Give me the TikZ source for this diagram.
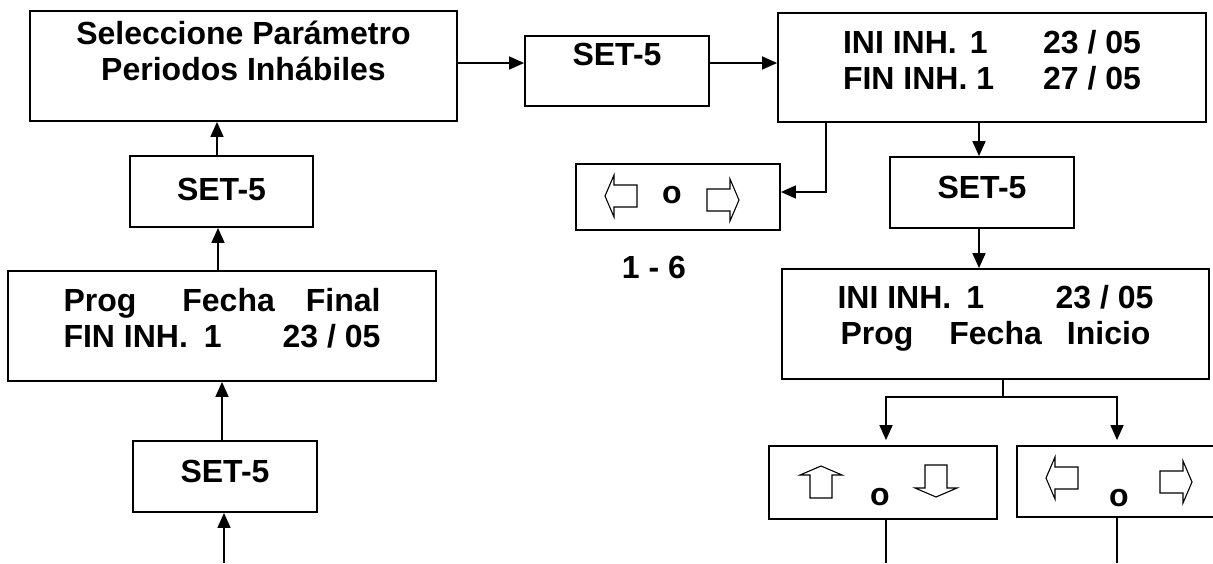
\documentclass[tikz,border=0pt]{standalone}
\usepackage{fontspec}
\setmainfont{Liberation Sans}
\usetikzlibrary{arrows.meta}

\newcommand{\dos}[3]{\vtop{\hbox to #1{\hfil#2\hfil}\hbox to #1{\hfil#3\hfil}}}

\tikzset{
  caja/.style={draw, line width=1.8pt, inner sep=0pt, text height=22pt,
    font=\bfseries\fontsize{32}{36}\selectfont},
  txt/.style={inner sep=0pt, font=\bfseries\fontsize{32}{36}\selectfont},
  flecha/.style={line width=1.5pt, -{Triangle[length=15pt,width=13pt]}},
  linea/.style={line width=1.5pt},
  pics/bloque/.style={code={
    \draw[line width=1.1pt] (0,-11) -- (23,-11) -- (23,-21) -- (32,0)
      -- (23,21) -- (23,11) -- (0,11) -- cycle;}}
}

\begin{document}
\begin{tikzpicture}[x=1pt, y=-1pt]
  \useasboundingbox (0,0) rectangle (1213,563);

  \node[caja, minimum width=427pt, minimum height=110pt, text depth=66pt] (sel) at (243.5,66)
    {\dos{340pt}{Seleccione Parámetro}{Periodos Inhábiles}};
  \node[caja, minimum width=183pt, minimum height=71pt, text depth=5pt] (setA) at (221.5,191.5) {SET-5};
  \node[caja, minimum width=428pt, minimum height=110pt, text depth=52pt] (progfin) at (222,326)
    {\dos{317pt}{Prog\hspace{46pt}Fecha\hfill Final}{FIN INH.\hspace{16pt}1\hfill 23 / 05}};
  \node[caja, minimum width=184pt, minimum height=71pt, text depth=11pt] (setB) at (225,476.5) {SET-5};

  \node[caja, minimum width=184pt, minimum height=70pt, text depth=34pt] (setC) at (617,71) {SET-5};
  \node[caja, minimum width=428pt, minimum height=109pt, text depth=51pt] (inifin) at (992,67.5)
    {\dos{298pt}{INI INH.\hspace{13pt}1\hfill 23 / 05}{FIN INH. 1\hfill 27 / 05}};
  \node[caja, minimum width=204pt, minimum height=66pt] (lr1) at (678,197) {};
  \node[caja, minimum width=184pt, minimum height=71pt, text depth=11pt] (setD) at (982,192.5) {SET-5};
  \node[caja, minimum width=427pt, minimum height=110pt, text depth=54pt] (iniprog) at (995.5,324)
    {\dos{316pt}{INI INH.\hspace{15pt}1\hfill 23 / 05}{Prog\hspace{36pt}Fecha\hspace{25pt}Inicio}};
  \node[caja, minimum width=228pt, minimum height=73pt] (ud) at (883,482.5) {};
  \node[caja, minimum width=200pt, minimum height=71pt] (lr2) at (1117,481.5) {};

  \node[txt, anchor=base] (o1) at (672,203) {o};
  \node[txt, anchor=base] (rango) at (654,278) {1 - 6};
  \node[txt, anchor=base] (o2) at (880,505) {o};
  \node[txt, anchor=base] (o3) at (1119,506) {o};

  \pic[rotate=180] at (637,196) {bloque};
  \pic at (707,200) {bloque};
  \pic[rotate=90] at (821,498) {bloque};
  \pic[rotate=-90] at (936,465) {bloque};
  \pic[rotate=180] at (1078,478) {bloque};
  \pic at (1160,482) {bloque};

  \draw[flecha] (sel.east |- 0,63) -- (setC.west |- 0,63);
  \draw[flecha] (setC.east |- 0,63) -- (inifin.west |- 0,63);
  \draw[flecha] (inifin.south -| 826,0) |- (lr1.east |- 0,192);
  \draw[flecha] (inifin.south -| 979,0) -- (setD.north -| 979,0);
  \draw[flecha] (setD.south -| 979,0) -- (iniprog.north -| 979,0);

  \coordinate (rama) at (1003,397);
  \draw[linea] (iniprog.south -| rama) -- (rama);
  \draw[flecha, shorten >=5pt] (rama) -| (ud.north -| 886,0);
  \draw[flecha, shorten >=5pt] (rama) -| (lr2.north);
  \coordinate (finA) at (886,563);
  \coordinate (finB) at (1117,563);
  \draw[linea] (ud.south -| finA) -- (finA);
  \draw[linea] (lr2.south) -- (finB);

  \draw[flecha] (setA.north -| 217,0) -- (sel.south -| 217,0);
  \draw[flecha] (progfin.north -| 218,0) -- (setA.south -| 218,0);
  \draw[flecha] (setB.north -| 222,0) -- (progfin.south -| 222,0);
  \coordinate (inicio) at (224,563);
  \draw[flecha] (inicio) -- (setB.south -| inicio);
\end{tikzpicture}
\end{document}
